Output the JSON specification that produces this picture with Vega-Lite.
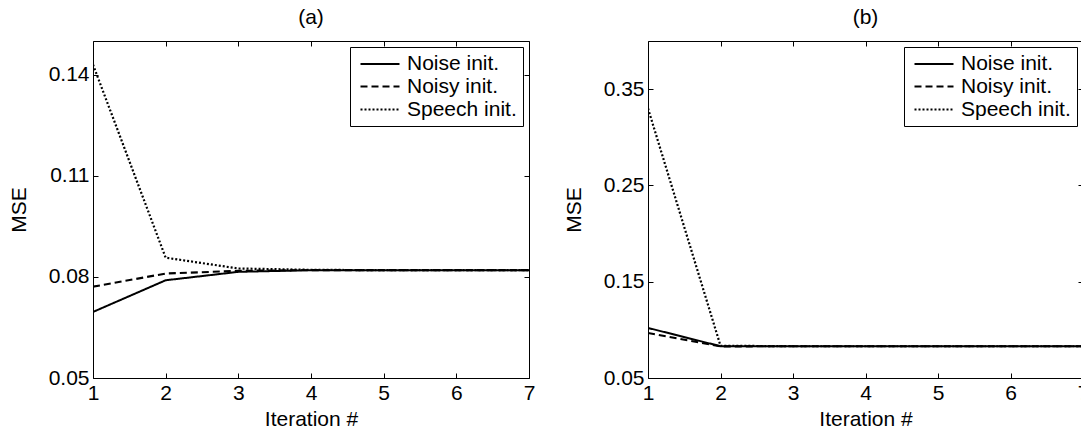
{
  "$schema": "https://vega.github.io/schema/vega-lite/v6.json",
  "background": "white",
  "padding": {"left": 8, "top": 6, "right": 0, "bottom": 0},
  "datasets": {
    "a": [
      {"iter": 1, "series": "Noise init.", "mse": 0.0696},
      {"iter": 2, "series": "Noise init.", "mse": 0.0790},
      {"iter": 3, "series": "Noise init.", "mse": 0.0815},
      {"iter": 4, "series": "Noise init.", "mse": 0.0820},
      {"iter": 5, "series": "Noise init.", "mse": 0.0820},
      {"iter": 6, "series": "Noise init.", "mse": 0.0820},
      {"iter": 7, "series": "Noise init.", "mse": 0.0820},
      {"iter": 1, "series": "Noisy init.", "mse": 0.0771},
      {"iter": 2, "series": "Noisy init.", "mse": 0.0810},
      {"iter": 3, "series": "Noisy init.", "mse": 0.0818},
      {"iter": 4, "series": "Noisy init.", "mse": 0.0820},
      {"iter": 5, "series": "Noisy init.", "mse": 0.0820},
      {"iter": 6, "series": "Noisy init.", "mse": 0.0820},
      {"iter": 7, "series": "Noisy init.", "mse": 0.0820},
      {"iter": 1, "series": "Speech init.", "mse": 0.1430},
      {"iter": 2, "series": "Speech init.", "mse": 0.0857},
      {"iter": 3, "series": "Speech init.", "mse": 0.0825},
      {"iter": 4, "series": "Speech init.", "mse": 0.0821},
      {"iter": 5, "series": "Speech init.", "mse": 0.0820},
      {"iter": 6, "series": "Speech init.", "mse": 0.0820},
      {"iter": 7, "series": "Speech init.", "mse": 0.0820}
    ],
    "b": [
      {"iter": 1, "series": "Noise init.", "mse": 0.102},
      {"iter": 2, "series": "Noise init.", "mse": 0.083},
      {"iter": 3, "series": "Noise init.", "mse": 0.083},
      {"iter": 4, "series": "Noise init.", "mse": 0.083},
      {"iter": 5, "series": "Noise init.", "mse": 0.083},
      {"iter": 6, "series": "Noise init.", "mse": 0.083},
      {"iter": 7, "series": "Noise init.", "mse": 0.083},
      {"iter": 1, "series": "Noisy init.", "mse": 0.0968},
      {"iter": 2, "series": "Noisy init.", "mse": 0.0828},
      {"iter": 3, "series": "Noisy init.", "mse": 0.083},
      {"iter": 4, "series": "Noisy init.", "mse": 0.083},
      {"iter": 5, "series": "Noisy init.", "mse": 0.083},
      {"iter": 6, "series": "Noisy init.", "mse": 0.083},
      {"iter": 7, "series": "Noisy init.", "mse": 0.083},
      {"iter": 1, "series": "Speech init.", "mse": 0.330},
      {"iter": 2, "series": "Speech init.", "mse": 0.0835},
      {"iter": 3, "series": "Speech init.", "mse": 0.083},
      {"iter": 4, "series": "Speech init.", "mse": 0.083},
      {"iter": 5, "series": "Speech init.", "mse": 0.083},
      {"iter": 6, "series": "Speech init.", "mse": 0.083},
      {"iter": 7, "series": "Speech init.", "mse": 0.083}
    ]
  },
  "config": {
    "font": "Liberation Sans",
    "view": {"stroke": null},
    "title": {"fontSize": 21, "fontWeight": "normal", "color": "black", "font": "Liberation Sans", "offset": 13},
    "axis": {
      "domainColor": "black", "tickColor": "black", "labelColor": "black", "titleColor": "black",
      "labelFontSize": 21, "titleFontSize": 21, "titleFontWeight": "normal",
      "grid": false, "tickSize": -5, "labelPadding": 9,
      "labelFlush": false, "labelOverlap": false, "labelBound": false
    },
    "legend": {
      "orient": "top-right", "offset": 6, "title": null,
      "strokeColor": "black", "fillColor": "white", "padding": 6,
      "symbolType": "M-0.7,0H3.2", "symbolSize": 400, "symbolStrokeColor": "black",
      "labelFontSize": 21, "labelColor": "black", "rowPadding": 1, "labelOffset": 28
    }
  },
  "resolve": {
    "scale": {"strokeDash": "independent", "strokeWidth": "independent", "x": "independent", "y": "independent"},
    "legend": {"strokeDash": "independent", "strokeWidth": "independent"}
  },
  "spacing": 28,
  "hconcat": [
    {
      "width": 436, "height": 337,
      "title": {"text": "(a)"},
      "data": {"name": "a"},
      "layer": [
        {
          "mark": {"type": "line", "color": "black", "clip": true},
          "encoding": {
            "x": {"field": "iter", "type": "quantitative", "scale": {"domain": [1, 7], "nice": false},
                  "axis": {"title": "Iteration #", "values": [1,2,3,4,5,6,7], "format": "d", "titlePadding": 5}},
            "y": {"field": "mse", "type": "quantitative", "scale": {"domain": [0.05, 0.15], "nice": false, "zero": false},
                  "axis": {"title": "MSE", "values": [0.05, 0.08, 0.11, 0.14], "format": ".2f", "titlePadding": 19}},
            "strokeDash": {"field": "series", "type": "nominal",
                  "scale": {"domain": ["Noise init.", "Noisy init.", "Speech init."], "range": [[1, 0], [7, 4], [2, 2]]}},
            "strokeWidth": {"field": "series", "type": "nominal",
                  "scale": {"domain": ["Noise init.", "Noisy init.", "Speech init."], "range": [2, 2.2, 0.7]}}
          }
        },
        {
          "mark": {"type": "line", "opacity": 0},
          "encoding": {
            "x": {"field": "iter", "type": "quantitative", "axis": {"orient": "top", "labels": false, "title": null, "values": [1,2,3,4,5,6,7]}},
            "y": {"field": "mse", "type": "quantitative", "axis": {"orient": "right", "labels": false, "title": null, "values": [0.05, 0.08, 0.11, 0.14]}}
          }
        }
      ],
      "resolve": {"axis": {"x": "independent", "y": "independent"}}
    },
    {
      "width": 435, "height": 337,
      "title": {"text": "(b)"},
      "data": {"name": "b"},
      "layer": [
        {
          "mark": {"type": "line", "color": "black", "clip": true},
          "encoding": {
            "x": {"field": "iter", "type": "quantitative", "scale": {"domain": [1, 7], "nice": false},
                  "axis": {"title": "Iteration #", "values": [1,2,3,4,5,6,7], "format": "d", "titlePadding": 5}},
            "y": {"field": "mse", "type": "quantitative", "scale": {"domain": [0.05, 0.4], "nice": false, "zero": false},
                  "axis": {"title": "MSE", "values": [0.05, 0.15, 0.25, 0.35], "format": ".2f", "titlePadding": 19}},
            "strokeDash": {"field": "series", "type": "nominal",
                  "scale": {"domain": ["Noise init.", "Noisy init.", "Speech init."], "range": [[1, 0], [7, 4], [2, 2]]}},
            "strokeWidth": {"field": "series", "type": "nominal",
                  "scale": {"domain": ["Noise init.", "Noisy init.", "Speech init."], "range": [2, 2.2, 0.7]}}
          }
        },
        {
          "mark": {"type": "line", "opacity": 0},
          "encoding": {
            "x": {"field": "iter", "type": "quantitative", "axis": {"orient": "top", "labels": false, "title": null, "values": [1,2,3,4,5,6,7]}},
            "y": {"field": "mse", "type": "quantitative", "axis": {"orient": "right", "labels": false, "title": null, "values": [0.05, 0.15, 0.25, 0.35]}}
          }
        }
      ],
      "resolve": {"axis": {"x": "independent", "y": "independent"}}
    }
  ]
}
